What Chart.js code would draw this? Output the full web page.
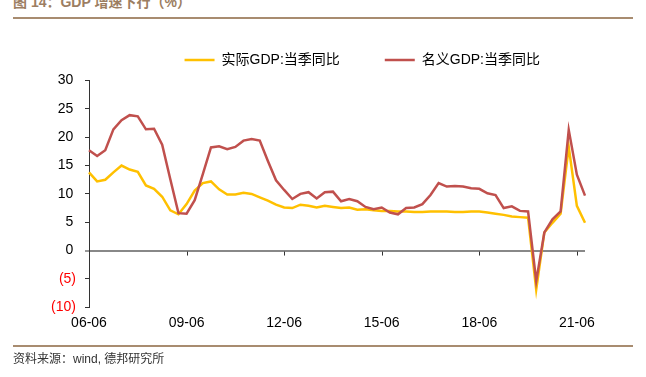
<!DOCTYPE html>
<html>
<head>
<meta charset="utf-8">
<script src="https://cdn.jsdelivr.net/npm/chart.js@4.4.1/dist/chart.umd.min.js"></script>
<style>
  body { margin: 0; background: #fff; width: 646px; height: 377px; overflow: hidden; position: relative;
         font-family: 'Liberation Sans', 'Noto Sans CJK SC', sans-serif; }
  .title { position: absolute; left: 13px; top: -5px; font-size: 14px; line-height: 14px; font-weight: bold; color: #9c7e62; white-space: nowrap; }
  .rule { position: absolute; left: 13px; width: 620px; height: 2px; background: #a88c70; }
  .source { position: absolute; left: 13px; top: 352px; font-size: 12px; line-height: 14px; color: #333; white-space: nowrap; }
  .box { position: absolute; left: 0; top: 8px; width: 646px; height: 340px; }
</style>
</head>
<body>
<div class="title">图 14：GDP 增速下行（%）</div>
<div class="rule" style="top:17px"></div>
<div class="box"><canvas id="gdp"></canvas></div>
<div class="rule" style="top:345px"></div>
<div class="source">资料来源：wind, 德邦研究所</div>
<script>
// quarters 06-06 .. 21-09
const quarters = [];
for (let yr = 6; yr <= 21; yr++) {
  ['03', '06', '09', '12'].forEach(m => {
    const lab = String(yr).padStart(2, '0') + '-' + m;
    if (lab >= '06-06' && lab <= '21-09') quarters.push(lab);
  });
}

const realGdp = [13.8, 12.2, 12.5, 13.8, 15.0, 14.3, 13.9, 11.5, 10.9, 9.5,
  7.1, 6.4, 8.2, 10.6, 11.9, 12.2, 10.8, 9.9, 9.9, 10.2,
  10.0, 9.4, 8.8, 8.1, 7.6, 7.5, 8.1, 7.9, 7.6, 7.9,
  7.7, 7.5, 7.6, 7.2, 7.3, 7.1, 7.0, 7.0, 6.9, 6.9,
  6.8, 6.8, 6.9, 6.9, 6.9, 6.8, 6.8, 6.9, 6.9, 6.7,
  6.5, 6.3, 6.0, 5.9, 5.8, -6.9, 3.2, 4.9, 6.5, 18.3,
  7.9, 4.9];

const nominalGdp = [17.7, 16.7, 17.7, 21.4, 23.0, 23.9, 23.7, 21.4, 21.5, 18.7,
  12.6, 6.6, 6.5, 8.9, 13.5, 18.2, 18.4, 17.9, 18.3, 19.4,
  19.7, 19.4, 15.8, 12.4, 10.7, 9.1, 10.0, 10.3, 9.2, 10.3,
  10.4, 8.7, 9.1, 8.7, 7.7, 7.3, 7.6, 6.7, 6.4, 7.5,
  7.6, 8.2, 9.8, 11.9, 11.3, 11.4, 11.3, 11.0, 10.9, 10.1,
  9.8, 7.5, 7.8, 7.0, 6.9, -5.4, 3.2, 5.5, 6.9, 21.3,
  13.4, 9.7];

const yTicks = [-10, -5, 0, 5, 10, 15, 20, 25, 30];

Chart.defaults.font.family = "'Liberation Sans', 'Noto Sans CJK SC', sans-serif";
Chart.defaults.color = '#000';

// small tick marks on the zero line
const zeroTicks = {
  id: 'zeroTicks',
  beforeDatasetsDraw(chart) {
    const { ctx, scales: { x, y } } = chart;
    const y0 = y.getPixelForValue(0);
    ctx.save();
    ctx.strokeStyle = '#333';
    ctx.lineWidth = 1;
    quarters.forEach((q, i) => {
      if (i > 0 && i % 12 === 0) {
        const px = Math.round(x.getPixelForValue(i)) + 0.5;
        ctx.beginPath();
        ctx.moveTo(px, y0 + 1);
        ctx.lineTo(px, y0 + 5);
        ctx.stroke();
      }
    });
    ctx.restore();
  }
};

new Chart(document.getElementById('gdp'), {
  type: 'line',
  data: {
    labels: quarters,
    datasets: [{
      label: '实际GDP:当季同比',
      data: realGdp,
      borderColor: '#ffc000',
      backgroundColor: '#ffc000',
      borderWidth: 2.5,
      pointRadius: 0,
      tension: 0,
      order: 1
    }, {
      label: '名义GDP:当季同比',
      data: nominalGdp,
      borderColor: '#c0504d',
      backgroundColor: '#c0504d',
      borderWidth: 2.5,
      pointRadius: 0,
      tension: 0,
      order: 0
    }]
  },
  options: {
    responsive: true,
    maintainAspectRatio: false,
    animation: false,
    layout: { padding: { top: 0, right: 61, bottom: 8, left: 0 } },
    plugins: {
      tooltip: { enabled: false },
      legend: {
        position: 'top',
        align: 'end',
        weight: 3000,
        labels: {
          usePointStyle: true,
          pointStyle: 'line',
          pointStyleWidth: 30,
          padding: 45,
          color: '#000',
          font: { size: 14 },
          sort: (a, b) => a.datasetIndex - b.datasetIndex
        }
      },
      subtitle: {
        display: true,
        text: '',
        padding: 0,
        font: { size: 3 }
      }
    },
    scales: {
      x: {
        offset: false,
        grid: { display: false, drawTicks: false },
        border: { display: false },
        ticks: {
          autoSkip: false,
          maxRotation: 0,
          padding: 8,
          font: { size: 14 },
          color: '#000',
          callback: (v, i) => (i % 12 === 0 ? quarters[i] : '')
        }
      },
      y: {
        min: -10,
        max: 30,
        afterFit: s => { s.width = 89; },
        afterBuildTicks: s => { s.ticks = yTicks.map(v => ({ value: v })); },
        border: { display: true, color: '#333', width: 1 },
        grid: {
          drawOnChartArea: true,
          color: c => (c.tick && c.tick.value === 0 ? '#888' : 'rgba(0,0,0,0)'),
          lineWidth: c => (c.tick && c.tick.value === 0 ? 2 : 1),
          tickColor: '#333',
          tickWidth: 1,
          tickLength: 4
        },
        ticks: {
          padding: 9,
          font: { size: 14 },
          color: c => (c.tick.value < 0 ? '#ff0000' : '#000'),
          callback: v => (v < 0 ? '(' + (-v) + ')' : v + '\u2009')
        }
      }
    }
  },
  plugins: [zeroTicks]
});
</script>
</body>
</html>
